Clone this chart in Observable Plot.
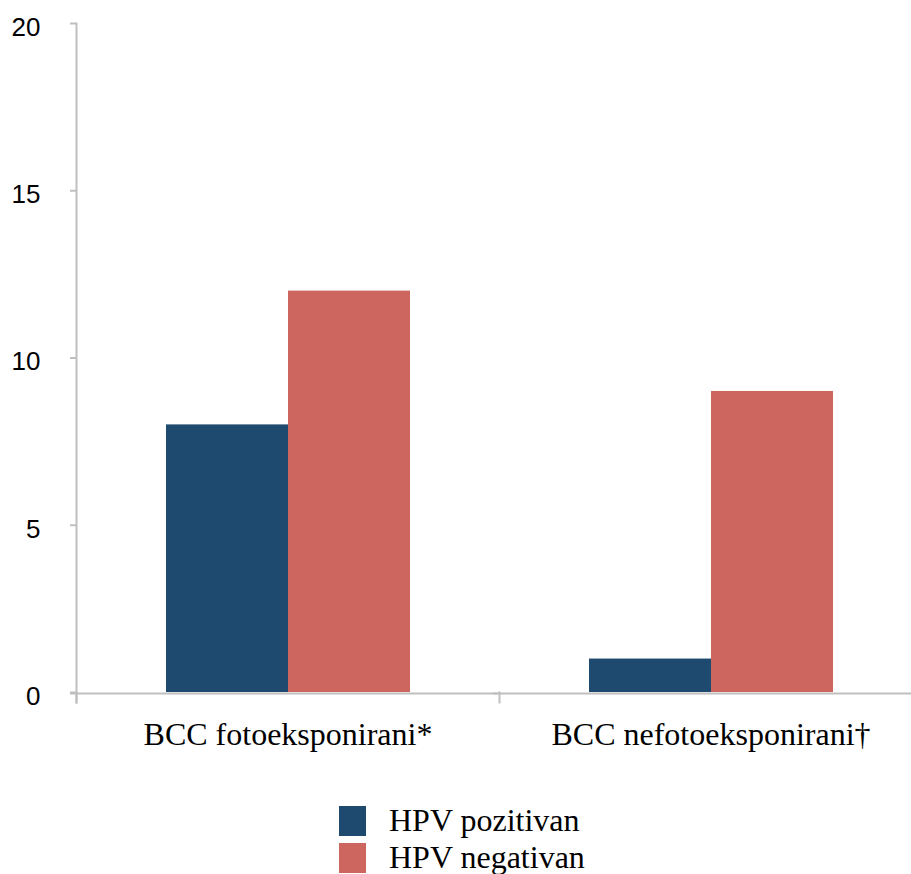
<!DOCTYPE html>
<html>
<head>
<meta charset="utf-8">
<script src="https://cdn.jsdelivr.net/npm/d3@7"></script>
<script src="https://cdn.jsdelivr.net/npm/@observablehq/plot@0.6"></script>
<style>
  html, body { margin: 0; padding: 0; background: #fff; overflow: hidden; }
  #legend { margin-top: 42px; padding-left: 339px; font-family: "Liberation Serif", "Times New Roman", serif; font-size: 32px; color: #000; }
  .row { display: flex; align-items: center; height: 37px; }
  .sw { width: 27px; height: 30px; margin-right: 23px; }
</style>
</head>
<body>
<div id="chart"></div>
<div id="legend"></div>
<script>
const categories = ["BCC fotoeksponirani*", "BCC nefotoeksponirani†"];
const series = ["HPV pozitivan", "HPV negativan"];
const pozitivan = [8, 1];
const negativan = [12, 9];
const yTicks = [0, 5, 10, 15, 20];
const colors = ["#1f4a70", "#cd665e"];
const gray = "#bfbfbf";

const data = [];
categories.forEach((c, i) => {
  data.push({category: c, series: series[0], value: pozitivan[i]});
  data.push({category: c, series: series[1], value: negativan[i]});
});

const marginTop = 23, height = 760, marginBottom = 68;
const innerH = height - marginTop - marginBottom;

const chart = Plot.plot({
  width: 922,
  height,
  marginLeft: 76,
  marginRight: 0,
  marginTop,
  marginBottom,
  style: {maxWidth: "none", background: "white"},
  fx: {domain: categories, padding: 0, label: null},
  x: {domain: series, paddingInner: 0, paddingOuter: 0.725, axis: null},
  y: {domain: [0, 20], label: null, axis: null},
  color: {domain: series, range: colors},
  marks: [
    Plot.barY(data, {fx: "category", x: "series", y: "value", fill: "series"}),
    Plot.ruleY([0], {stroke: gray, strokeWidth: 2, insetLeft: -6, dy: 1}),
    Plot.frame({anchor: "left", facet: "super", stroke: gray, strokeWidth: 2, insetBottom: -10}),
    Plot.frame({anchor: "left", stroke: gray, strokeWidth: 2, insetTop: innerH, insetBottom: -10}),
    Plot.axisY({ticks: yTicks, tickSize: 6, tickFormat: () => "", stroke: gray, strokeWidth: 2, label: null}),
    Plot.axisY({ticks: yTicks, tickSize: 0, tickPadding: 36, dy: 4, fill: "black", fontSize: 26, fontFamily: "Liberation Sans, Arial, sans-serif", label: null}),
    Plot.axisFx({anchor: "bottom", tickSize: 0, tickPadding: 30, fill: "black", fontSize: 32, fontFamily: "Liberation Serif, Times New Roman, serif", label: null})
  ]
});
document.getElementById("chart").appendChild(chart);

const legend = document.getElementById("legend");
series.forEach((s, i) => {
  const row = document.createElement("div");
  row.className = "row";
  const sw = document.createElement("div");
  sw.className = "sw";
  sw.style.background = colors[i];
  const t = document.createElement("span");
  t.textContent = s;
  row.appendChild(sw);
  row.appendChild(t);
  legend.appendChild(row);
});
</script>
</body>
</html>
